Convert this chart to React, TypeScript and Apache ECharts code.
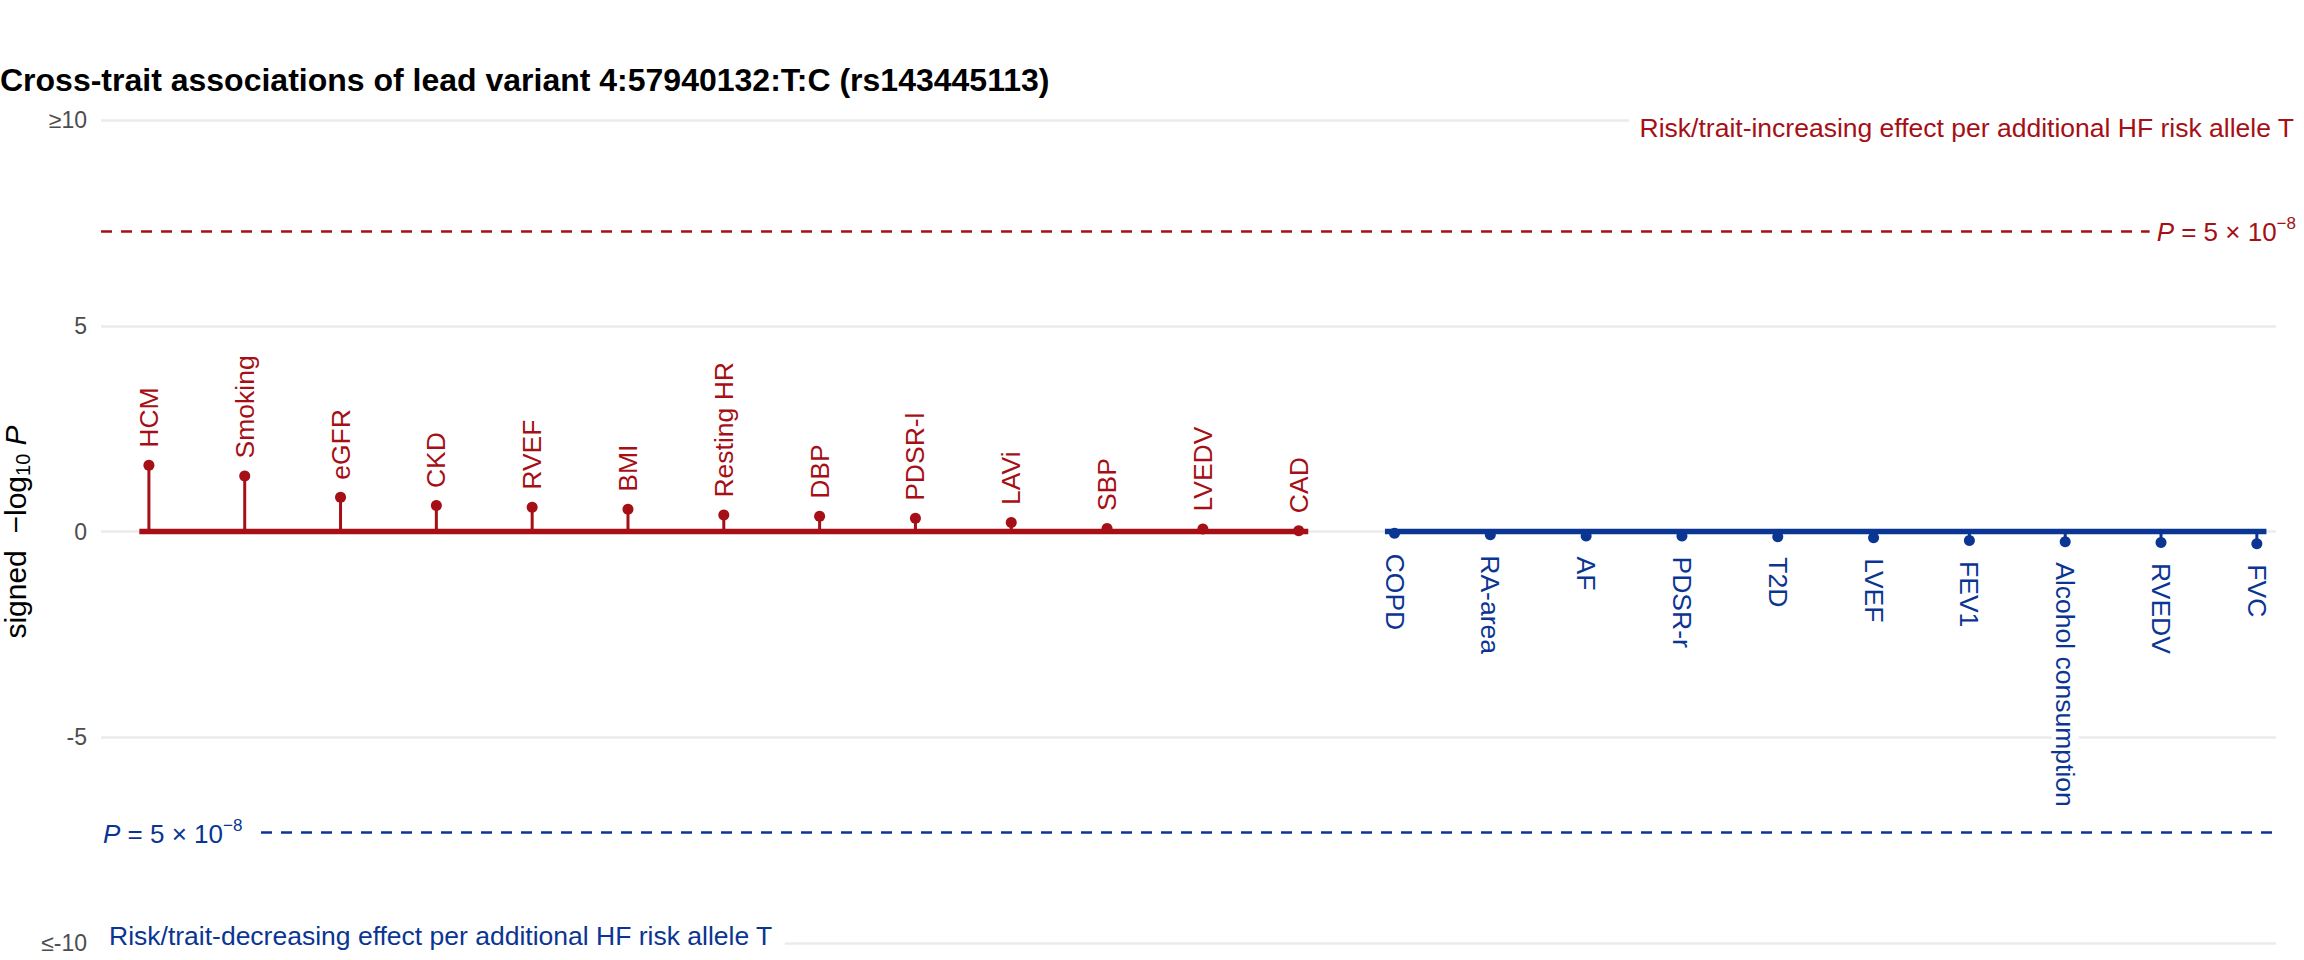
import React, { useEffect, useRef } from "react";
import * as echarts from "echarts";

const FONT = "'Liberation Sans', Arial, Helvetica, sans-serif";
const RED = "#A50F15";
const BLUE = "#0B3592";
const GRID = "#EBEBEB";
const TICK = "#4D4D4D";

const titleText = "Cross-trait associations of lead variant 4:57940132:T:C (rs143445113)";
const upNote = "Risk/trait-increasing effect per additional HF risk allele T";
const downNote = "Risk/trait-decreasing effect per additional HF risk allele T";

const upTraits = ["HCM", "Smoking", "eGFR", "CKD", "RVEF", "BMI", "Resting HR", "DBP", "PDSR-l", "LAVi", "SBP", "LVEDV", "CAD"];
const upValues = [1.61, 1.35, 0.83, 0.63, 0.59, 0.54, 0.4, 0.37, 0.32, 0.22, 0.07, 0.06, 0.02];

const downTraits = ["COPD", "RA-area", "AF", "PDSR-r", "T2D", "LVEF", "FEV1", "Alcohol consumption", "RVEDV", "FVC"];
const downValues = [-0.04, -0.08, -0.11, -0.11, -0.13, -0.15, -0.22, -0.25, -0.27, -0.3];

const yTickValues = [-10, -5, 0, 5, 10];
const yTickLabels = ["≤-10", "-5", "0", "5", "≥10"];

const SIG = 7.30103; // -log10(5e-8)

export default function App() {
  const ref = useRef<HTMLDivElement>(null);

  useEffect(() => {
    if (!ref.current) return;
    const chart = echarts.init(ref.current, null, { renderer: "svg" });

    const upData = upTraits.map((name, i) => ({ name, value: [i + 1, upValues[i]] }));
    const offset = upTraits.length;
    const downData = downTraits.map((name, i) => ({ name, value: [offset + i + 1, downValues[i]] }));

    const stem = (color: string) => (params: any, api: any) => {
      const x = api.value(0);
      const y = api.value(1);
      const p0 = api.coord([x, 0]);
      const p1 = api.coord([x, y]);
      return {
        type: "line",
        shape: { x1: p0[0], y1: p0[1], x2: p1[0], y2: p1[1] },
        style: { stroke: color, lineWidth: 3 },
      };
    };

    const pointLabel = (color: string, up: boolean) => ({
      show: true,
      formatter: "{b}",
      position: up ? "top" : "bottom",
      distance: up ? 10 : 13,
      rotate: up ? 90 : -90,
      align: "left",
      verticalAlign: "middle",
      fontSize: 26.5,
      fontFamily: FONT,
      color,
      opacity: 1,
      backgroundColor: "#ffffff",
      padding: [0, 2],
    });

    const pRich = (color: string) => ({
      i: { fontStyle: "italic", fontSize: 26, fontFamily: FONT, color },
      sup: { fontSize: 17, fontFamily: FONT, color, padding: [0, 0, 18, 0] },
    });

    const option: any = {
      animation: false,
      grid: { left: 101, right: 28, top: 120, bottom: 17, containLabel: false },
      xAxis: {
        type: "value",
        min: 0.5,
        max: 23.2,
        show: false,
      },
      yAxis: {
        type: "value",
        min: -10,
        max: 10,
        interval: 5,
        axisLine: { show: false },
        axisTick: { show: false },
        axisLabel: {
          fontSize: 23,
          fontFamily: FONT,
          color: TICK,
          margin: 14,
          formatter: (v: number) => {
            const k = yTickValues.indexOf(v);
            return k >= 0 ? yTickLabels[k] : String(v);
          },
        },
        splitLine: { lineStyle: { color: GRID, width: 2.5 } },
      },
      series: [
        {
          type: "custom",
          renderItem: stem(RED),
          data: upData.map((d) => d.value),
          z: 2,
          silent: true,
        },
        {
          type: "custom",
          renderItem: stem(BLUE),
          data: downData.map((d) => d.value),
          z: 2,
          silent: true,
        },
        {
          type: "line",
          data: [[1 - 0.1, 0], [upTraits.length + 0.1, 0]],
          showSymbol: false,
          lineStyle: { color: RED, width: 5.5, cap: "butt" },
          z: 3,
          silent: true,
          markLine: {
            silent: true,
            symbol: ["none", "none"],
            label: { show: false },
            lineStyle: { color: RED, width: 2.5, type: [11, 9] },
            data: [{ yAxis: SIG }],
          },
        },
        {
          type: "line",
          data: [[offset + 1 - 0.1, 0], [offset + downTraits.length + 0.1, 0]],
          showSymbol: false,
          lineStyle: { color: BLUE, width: 5.5, cap: "butt" },
          z: 3,
          silent: true,
          markLine: {
            silent: true,
            symbol: ["none", "none"],
            label: { show: false },
            lineStyle: { color: BLUE, width: 2.5, type: [11, 9] },
            data: [{ yAxis: -SIG }],
          },
        },
        {
          type: "scatter",
          data: upData,
          symbolSize: 11,
          itemStyle: { color: RED, opacity: 1 },
          label: pointLabel(RED, true),
          emphasis: { disabled: true },
          silent: true,
          z: 5,
        },
        {
          type: "scatter",
          data: downData,
          symbolSize: 11,
          itemStyle: { color: BLUE, opacity: 1 },
          label: pointLabel(BLUE, false),
          emphasis: { disabled: true },
          silent: true,
          z: 5,
        },
      ],
      graphic: [
        {
          type: "text",
          x: 0,
          y: 80,
          z: 100,
          style: {
            text: titleText,
            fontSize: 32,
            fontWeight: "bold",
            fontFamily: FONT,
            fill: "#000",
            align: "left",
            verticalAlign: "middle",
          },
        },
        {
          type: "text",
          x: 15,
          y: 532,
          rotation: Math.PI / 2,
          z: 100,
          style: {
            text: "signed  −log{sub|10} {i|P}",
            fontSize: 30,
            fontFamily: FONT,
            fill: "#000",
            align: "center",
            verticalAlign: "middle",
            rich: {
              sub: { fontSize: 20, fontFamily: FONT, fill: "#000", padding: [16, 0, 0, 0] },
              i: { fontSize: 30, fontStyle: "italic", fontFamily: FONT, fill: "#000" },
            },
          },
        },
        {
          type: "text",
          x: 2304,
          y: 128,
          z: 100,
          style: {
            text: upNote,
            fontSize: 26.5,
            fontFamily: FONT,
            fill: RED,
            align: "right",
            verticalAlign: "middle",
            backgroundColor: "#ffffff",
            padding: [4, 10],
          },
        },
        {
          type: "text",
          x: 101,
          y: 936,
          z: 100,
          style: {
            text: downNote,
            fontSize: 26.5,
            fontFamily: FONT,
            fill: BLUE,
            align: "left",
            verticalAlign: "middle",
            backgroundColor: "#ffffff",
            padding: [4, 12, 4, 8],
          },
        },
        {
          type: "text",
          x: 2300,
          y: 232,
          z: 100,
          style: {
            text: "{i|P} = 5 × 10{sup|−8}",
            fontSize: 26,
            fontFamily: FONT,
            fill: RED,
            align: "right",
            verticalAlign: "middle",
            backgroundColor: "#ffffff",
            padding: [2, 4, 2, 7],
            rich: pRich(RED),
          },
        },
        {
          type: "text",
          x: 98,
          y: 834,
          z: 100,
          style: {
            text: "{i|P} = 5 × 10{sup|−8}",
            fontSize: 26,
            fontFamily: FONT,
            fill: BLUE,
            align: "left",
            verticalAlign: "middle",
            backgroundColor: "#ffffff",
            padding: [2, 14, 2, 5],
            rich: pRich(BLUE),
          },
        },
      ],
    };

    chart.setOption(option);
    return () => chart.dispose();
  }, []);

  return (
    <div
      ref={ref}
      style={{ position: "absolute", left: 0, top: 0, width: 2304, height: 960, background: "#fff" }}
    />
  );
}
